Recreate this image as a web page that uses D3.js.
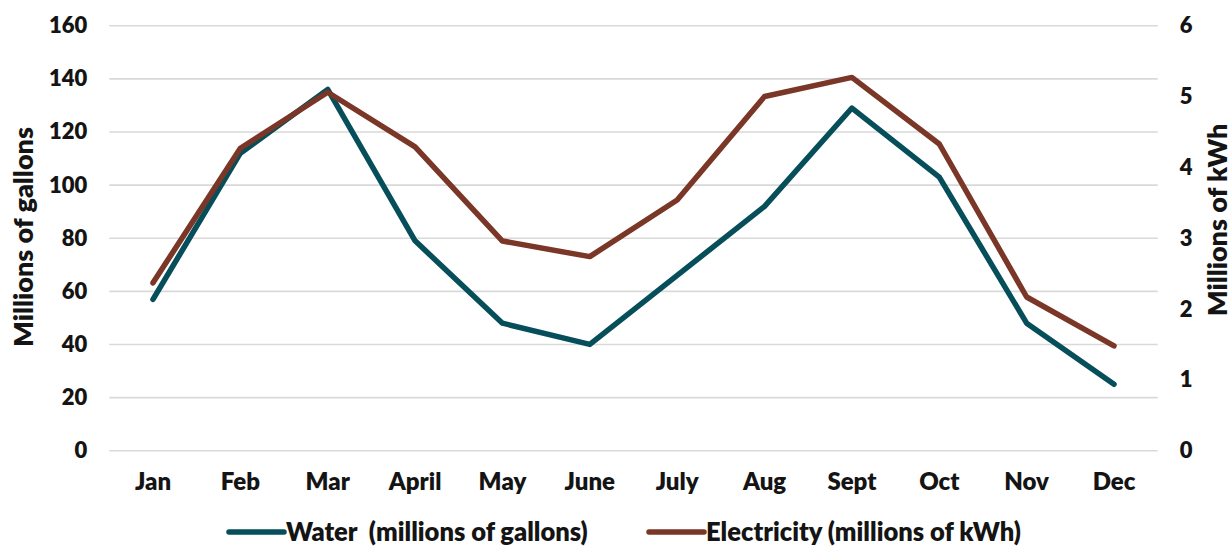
<!DOCTYPE html>
<html>
<head>
<meta charset="utf-8">
<script src="https://cdn.jsdelivr.net/npm/d3@7"></script>
<style>
  html, body { margin: 0; padding: 0; background: #ffffff; }
  svg { display: block; font-family: Lato, "Open Sans", sans-serif; font-weight: 700; }
</style>
</head>
<body>
<svg id="chart" width="1232" height="546"></svg>
<script>
// Monthly usage: water (left axis) and electricity (right axis)
const months = ["Jan", "Feb", "Mar", "April", "May", "June", "July", "Aug", "Sept", "Oct", "Nov", "Dec"];
const water = [57, 112, 136, 79, 48, 40, 66, 92, 129, 103, 48, 25];
const electricity = [2.37, 4.27, 5.06, 4.29, 2.96, 2.74, 3.54, 5.00, 5.27, 4.33, 2.17, 1.48];
const leftTicks = [0, 20, 40, 60, 80, 100, 120, 140, 160];
const rightTicks = [0, 1, 2, 3, 4, 5, 6];
const seriesNames = ["Water  (millions of gallons)", "Electricity (millions of kWh)"];
const seriesColors = ["#064F5A", "#7A3626"];

const svg = d3.select("#chart");
const plot = { left: 109.3, right: 1157.7, top: 25.7, bottom: 450.7 };
const ink = "#141414";

const x = d3.scaleBand().domain(months).range([plot.left, plot.right]);
const yL = d3.scaleLinear().domain([0, 160]).range([plot.bottom, plot.top]);
const yR = d3.scaleLinear().domain([0, 6]).range([plot.bottom, plot.top]);

// Horizontal gridlines
svg.append("g")
  .selectAll("line")
  .data(leftTicks)
  .join("line")
  .attr("x1", plot.left).attr("x2", plot.right)
  .attr("y1", d => yL(d)).attr("y2", d => yL(d))
  .attr("stroke", "#D9D9D9").attr("stroke-width", 1.6);

function styleText(sel, size) {
  sel.attr("font-family", "Lato, sans-serif").attr("font-weight", 800)
    .attr("font-size", size).attr("fill", ink);
}

// Left axis
const leftAxis = svg.append("g")
  .attr("transform", `translate(${plot.left},0)`)
  .call(d3.axisLeft(yL).tickValues(leftTicks).tickFormat(d3.format("d")).tickSize(0).tickPadding(22));
leftAxis.select(".domain").remove();
styleText(leftAxis.selectAll("text"), 22);

// Right axis
const rightAxis = svg.append("g")
  .attr("transform", `translate(${plot.right},0)`)
  .call(d3.axisRight(yR).tickValues(rightTicks).tickFormat(d3.format("d")).tickSize(0).tickPadding(22));
rightAxis.select(".domain").remove();
styleText(rightAxis.selectAll("text"), 22);

// Category axis
const bottomAxis = svg.append("g")
  .attr("transform", `translate(0,${plot.bottom})`)
  .call(d3.axisBottom(x).tickSize(0).tickPadding(22));
bottomAxis.select(".domain").remove();
styleText(bottomAxis.selectAll("text"), 24);

// Axis titles
styleText(svg.append("text")
  .attr("transform", `translate(33,237) rotate(-90)`)
  .attr("text-anchor", "middle")
  .text("Millions of gallons"), 27);
styleText(svg.append("text")
  .attr("transform", `translate(1227,220) rotate(-90)`)
  .attr("text-anchor", "middle")
  .text("Millions of kWh"), 27);

// Series lines
const cx = d => x(d) + x.bandwidth() / 2;
const waterLine = d3.line().x((d, i) => cx(months[i])).y(d => yL(d));
const elecLine = d3.line().x((d, i) => cx(months[i])).y(d => yR(d));

svg.append("path")
  .datum(water)
  .attr("d", waterLine)
  .attr("fill", "none").attr("stroke", seriesColors[0])
  .attr("stroke-width", 5.5).attr("stroke-linejoin", "round").attr("stroke-linecap", "round");
svg.append("path")
  .datum(electricity)
  .attr("d", elecLine)
  .attr("fill", "none").attr("stroke", seriesColors[1])
  .attr("stroke-width", 5.5).attr("stroke-linejoin", "round").attr("stroke-linecap", "round");

// Legend
const legendItems = [
  { name: seriesNames[0], color: seriesColors[0], x0: 229 },
  { name: seriesNames[1], color: seriesColors[1], x0: 649 }
];
const legend = svg.append("g");
const item = legend.selectAll("g").data(legendItems).join("g")
  .attr("transform", d => `translate(${d.x0},532)`);
item.append("line")
  .attr("x1", 0).attr("x2", 55).attr("y1", 0).attr("y2", 0)
  .attr("stroke", d => d.color).attr("stroke-width", 5.5).attr("stroke-linecap", "round");
styleText(item.append("text")
  .attr("x", 57).attr("dy", "0.36em")
  .attr("xml:space", "preserve").style("white-space", "pre")
  .text(d => d.name), 25.5);
</script>
</body>
</html>
